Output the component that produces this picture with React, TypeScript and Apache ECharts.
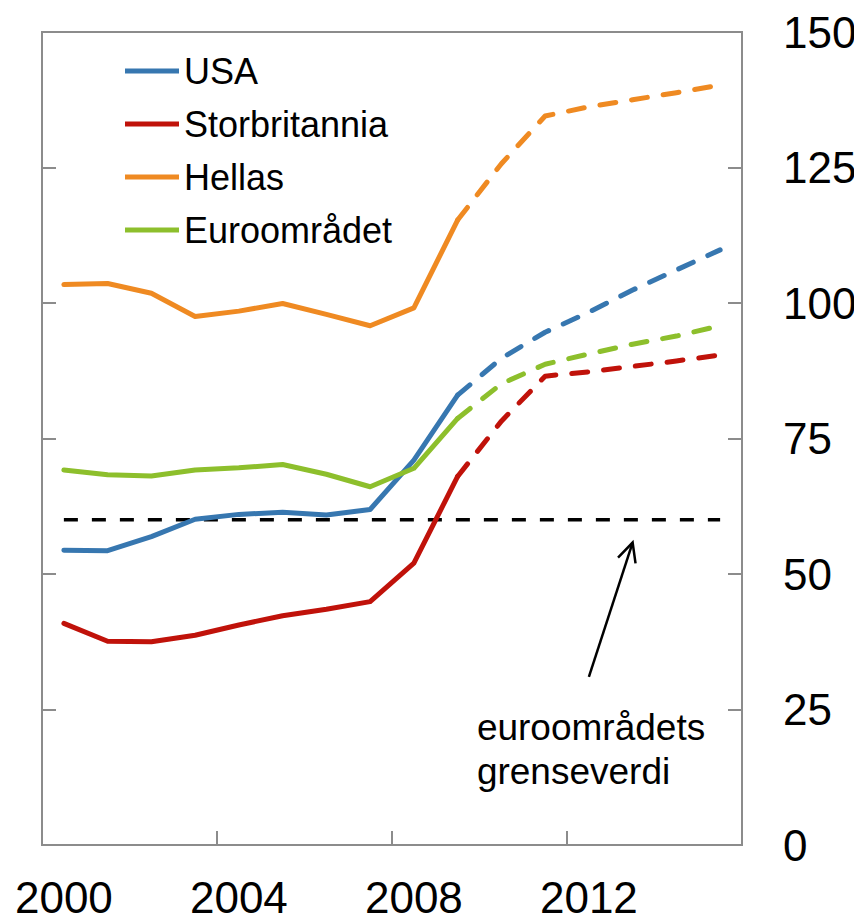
import React, { useEffect, useRef } from "react";
import * as echarts from "echarts";

const years = ["2000","2001","2002","2003","2004","2005","2006","2007","2008","2009","2010","2011","2012","2013","2014","2015"];

// Actual values 2000–2009
const usaActual = [54.4, 54.3, 56.9, 60.1, 61.0, 61.4, 60.9, 61.9, 71.0, 83.0];
const ukActual = [40.9, 37.6, 37.5, 38.7, 40.6, 42.3, 43.5, 44.9, 52.0, 68.0];
const greeceActual = [103.4, 103.6, 101.8, 97.5, 98.5, 99.9, 97.9, 95.8, 99.1, 115.3];
const euroActual = [69.2, 68.3, 68.1, 69.2, 69.6, 70.2, 68.4, 66.1, 69.5, 78.7];

// Projections 2010–2015
const usaForecast = [89.8, 94.6, 98.3, 102.4, 106.1, 109.8];
const ukForecast = [78.2, 86.5, 87.3, 88.3, 89.3, 90.4];
const greeceForecast = [125.7, 134.5, 136.2, 137.5, 138.8, 140.2];
const euroForecast = [85.1, 88.7, 90.6, 92.4, 93.9, 95.8];

// Euro-area limit (60 %)
const threshold = [60, 60, 60, 60, 60, 60, 60, 60, 60, 60, 60, 60, 60, 60, 60, 60];

const yTicks = { min: 0, max: 150, interval: 25 };

const names = ["USA", "Storbritannia", "Hellas", "Euroområdet"];
const colors = ["#3777b0", "#c0120a", "#ef8a22", "#8dbf2c"];

const FONT = "'Liberation Sans', Arial, sans-serif";
const AXIS_GRAY = "#8c8c8c";

function dashedData(actual: number[], forecast: number[]) {
  const out: (number | null)[] = actual.map(() => null);
  out[actual.length - 1] = actual[actual.length - 1];
  return out.concat(forecast);
}

export default function App() {
  const ref = useRef<HTMLDivElement>(null);

  useEffect(() => {
    if (!ref.current) return;
    const chart = echarts.init(ref.current, null, { renderer: "svg" });
    const actuals = [usaActual, ukActual, greeceActual, euroActual];
    const forecasts = [usaForecast, ukForecast, greeceForecast, euroForecast];

    const series: any[] = [];
    series.push({
      name: "grenseverdi",
      type: "line",
      data: threshold,
      symbol: "none",
      silent: true,
      lineStyle: { color: "#000", width: 3.5, type: [14, 14], cap: "butt" },
      itemStyle: { color: "#000" },
      z: 1,
    });
    names.forEach((n, i) => {
      series.push({
        name: n,
        type: "line",
        data: actuals[i],
        symbol: "none",
        lineStyle: { color: colors[i], width: 5, cap: "round", join: "round" },
        itemStyle: { color: colors[i] },
        z: 3,
      });
      series.push({
        name: n + " anslag",
        type: "line",
        data: dashedData(actuals[i], forecasts[i]),
        symbol: "none",
        connectNulls: false,
        lineStyle: { color: colors[i], width: 5, type: [16, 16], cap: "round", join: "round" },
        itemStyle: { color: colors[i] },
        z: 3,
      });
    });

    const axisLineStyle = { color: AXIS_GRAY, width: 2 };

    chart.setOption({
      animation: false,
      textStyle: { fontFamily: FONT },
      grid: {
        left: 42,
        right: 120,
        top: 32,
        bottom: 78,
        show: true,
        borderColor: AXIS_GRAY,
        borderWidth: 2,
        containLabel: false,
      },
      legend: {
        data: names,
        orient: "vertical",
        left: 120,
        top: 48,
        itemGap: 17,
        itemWidth: 54,
        itemHeight: 5,
        icon: "rect",
        textStyle: { fontSize: 36, color: "#000", fontFamily: FONT },
        selectedMode: false,
      },
      xAxis: {
        type: "category",
        data: years,
        boundaryGap: true,
        axisLine: { show: true, lineStyle: axisLineStyle },
        axisTick: { show: true, inside: true, length: 14, interval: 3, lineStyle: axisLineStyle },
        axisLabel: { interval: 3, fontSize: 44, lineHeight: 40, color: "#000", margin: 32, fontFamily: FONT },
        splitLine: { show: false },
      },
      yAxis: [
        {
          type: "value",
          position: "left",
          ...yTicks,
          axisLine: { show: true, lineStyle: axisLineStyle },
          axisTick: { show: true, inside: true, length: 14, lineStyle: axisLineStyle },
          axisLabel: { show: false },
          splitLine: { show: false },
        },
        {
          type: "value",
          position: "right",
          ...yTicks,
          axisLine: { show: true, lineStyle: axisLineStyle },
          axisTick: { show: true, inside: true, length: 14, lineStyle: axisLineStyle },
          axisLabel: { show: true, fontSize: 44, color: "#000", margin: 41, fontFamily: FONT },
          splitLine: { show: false },
        },
      ],
      series,
    });

    // Annotation arrow pointing to the 60 % limit
    const tail = chart.convertToPixel({ xAxisIndex: 0, yAxisIndex: 0 }, [12, 31]) as number[];
    const tip = chart.convertToPixel({ xAxisIndex: 0, yAxisIndex: 0 }, [13, 55.8]) as number[];
    if (tail && tip) {
      const dx = tip[0] - tail[0];
      const dy = tip[1] - tail[1];
      const len = Math.sqrt(dx * dx + dy * dy);
      const ux = dx / len;
      const uy = dy / len;
      const hl = 21;
      const ang = (26 * Math.PI) / 180;
      const rot = (a: number) => [
        tip[0] - hl * (ux * Math.cos(a) - uy * Math.sin(a)),
        tip[1] - hl * (ux * Math.sin(a) + uy * Math.cos(a)),
      ];
      const w1 = rot(ang);
      const w2 = rot(-ang);
      chart.setOption({
        graphic: [
          {
            type: "line",
            shape: { x1: tail[0], y1: tail[1], x2: tip[0], y2: tip[1] },
            style: { stroke: "#000", lineWidth: 2.5 },
            silent: true,
          },
          {
            type: "polyline",
            shape: { points: [w1, tip, w2] },
            style: { stroke: "#000", lineWidth: 2.5, fill: null },
            silent: true,
          },
          {
            type: "text",
            x: tail[0] - 112,
            y: tail[1] + 29,
            style: {
              text: "euroområdets\ngrenseverdi",
              font: `37px ${FONT}`,
              fill: "#000",
              lineHeight: 44,
              verticalAlign: "top",
              align: "left",
            },
            silent: true,
          },
        ],
      });
    }

    return () => chart.dispose();
  }, []);

  return <div ref={ref} style={{ width: 862, height: 923, margin: -8 }} />;
}
